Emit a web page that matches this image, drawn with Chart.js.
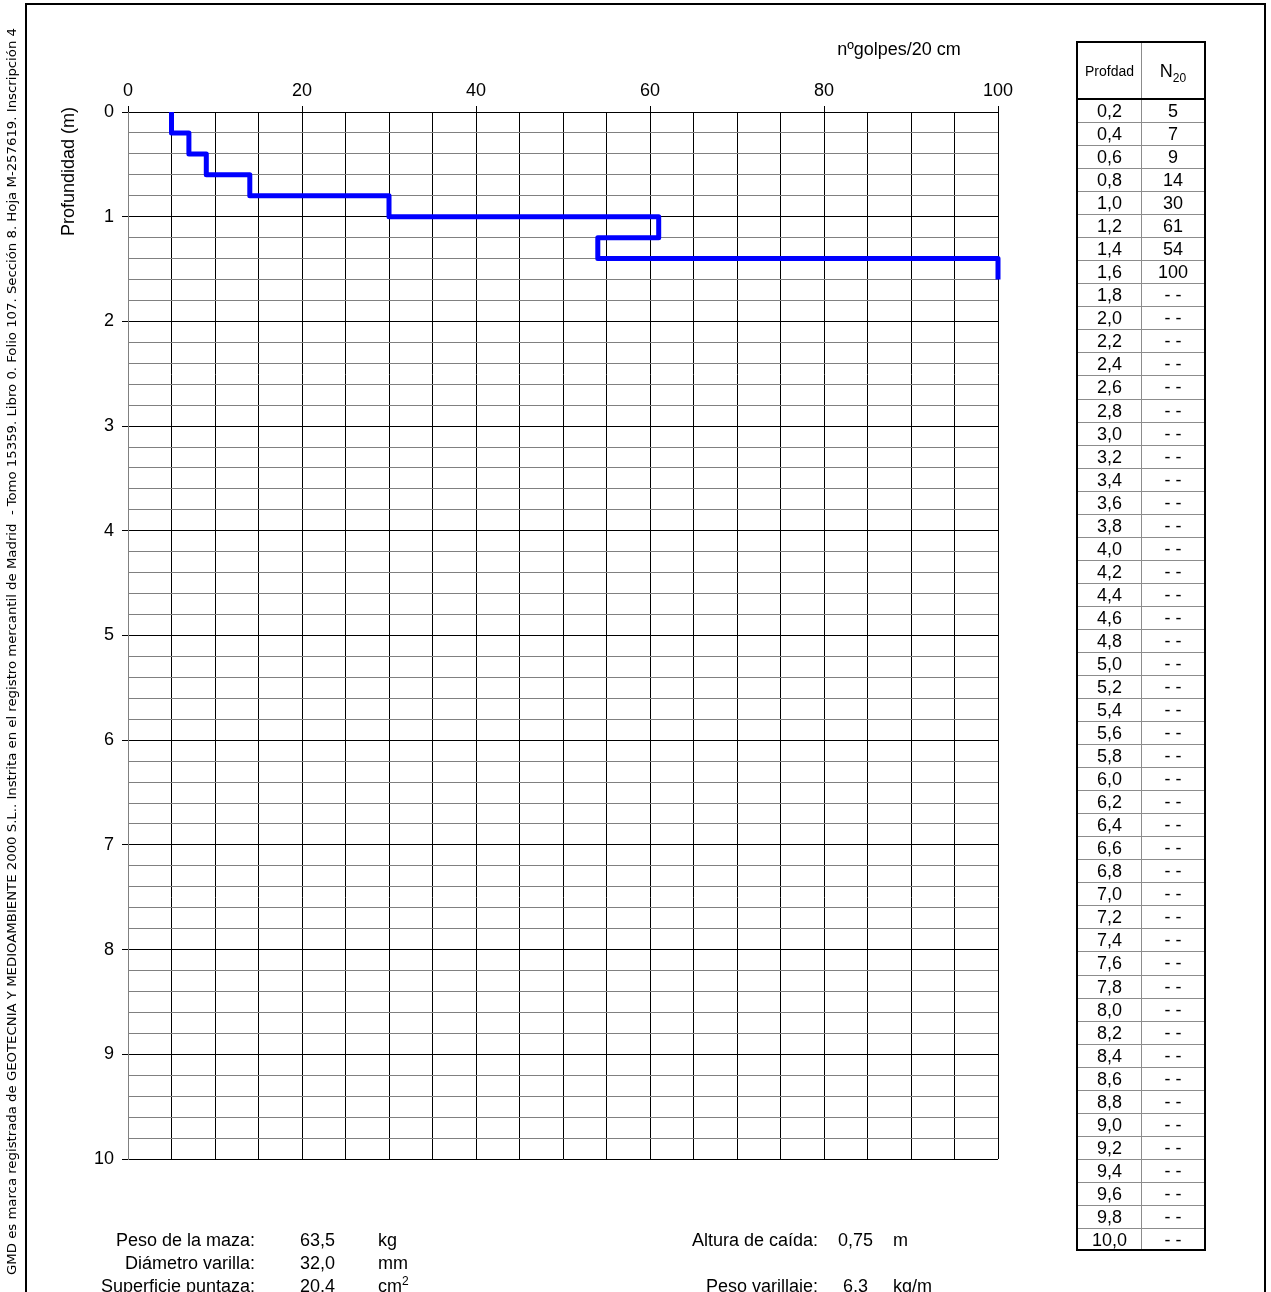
<!DOCTYPE html>
<html>
<head>
<meta charset="utf-8">
<script src="https://cdn.jsdelivr.net/npm/chart.js@4.4.1/dist/chart.umd.min.js"></script>
<style>
html,body{margin:0;padding:0;background:#fff;width:1271px;height:1292px;overflow:hidden;font-family:"Liberation Sans",Arial,sans-serif;color:#000;}
#c{position:absolute;left:0;top:0;}
.t{position:absolute;white-space:nowrap;font-size:18px;line-height:22px;}
.r{text-align:right;}
#frame{position:absolute;left:25px;top:3px;width:1241px;height:1400px;border:2px solid #000;box-sizing:border-box;}
#legal{position:absolute;left:5px;top:1275px;white-space:nowrap;font-family:"DejaVu Sans Condensed","DejaVu Sans",sans-serif;font-size:12px;line-height:14px;transform-origin:0 0;}
#tbl{position:absolute;left:1076px;top:41px;width:130px;height:1210px;border:2px solid #000;box-sizing:border-box;}
.cell{position:absolute;text-align:center;font-size:18px;white-space:nowrap;}
.hl{position:absolute;left:0;height:1px;background:#8c8c8c;}
</style>
</head>
<body>
<div id="frame"></div>
<canvas id="c" width="1271" height="1292"></canvas>
<div id="legal">GMD es marca registrada de GEOTECNIA Y MEDIOAMBIENTE 2000 S.L.. Instrita en el registro mercantil de Madrid &nbsp;- Tomo 15359. Libro 0. Folio 107. Sección 8. Hoja M-257619. Inscripción 4</div>
<div class="t" id="ytitle" style="font-size:18px;">Profundidad (m)</div>
<div class="t" style="left:834px;top:38px;width:130px;text-align:center;">nºgolpes/20 cm</div>
<div id="tbl"></div>

<div class="t r" style="left:55px;top:1229px;width:200px;">Peso de la maza:</div>
<div class="t" style="left:300px;top:1229px;">63,5</div>
<div class="t" style="left:378px;top:1229px;">kg</div>
<div class="t r" style="left:55px;top:1252px;width:200px;">Diámetro varilla:</div>
<div class="t" style="left:300px;top:1252px;">32,0</div>
<div class="t" style="left:378px;top:1252px;">mm</div>
<div class="t r" style="left:55px;top:1275px;width:200px;">Superficie puntaza:</div>
<div class="t" style="left:300px;top:1275px;">20,4</div>
<div class="t" style="left:378px;top:1275px;">cm<sup style="font-size:12px;line-height:0;">2</sup></div>

<div class="t r" style="left:618px;top:1229px;width:200px;">Altura de caída:</div>
<div class="t" style="left:838px;top:1229px;">0,75</div>
<div class="t" style="left:893px;top:1229px;">m</div>
<div class="t r" style="left:618px;top:1275px;width:200px;">Peso varillaje:</div>
<div class="t" style="left:843px;top:1275px;">6,3</div>
<div class="t" style="left:893px;top:1275px;">kg/m</div>

<script>
// ---- data ----
const depthLabels = ['0,2','0,4','0,6','0,8','1,0','1,2','1,4','1,6','1,8','2,0',
  '2,2','2,4','2,6','2,8','3,0','3,2','3,4','3,6','3,8','4,0',
  '4,2','4,4','4,6','4,8','5,0','5,2','5,4','5,6','5,8','6,0',
  '6,2','6,4','6,6','6,8','7,0','7,2','7,4','7,6','7,8','8,0',
  '8,2','8,4','8,6','8,8','9,0','9,2','9,4','9,6','9,8','10,0'];
const blows = [5, 7, 9, 14, 30, 61, 54, 100];
const startDepth = 0;
const xTickLabels = [0, 20, 40, 60, 80, 100];
const yTickLabels = [0, 1, 2, 3, 4, 5, 6, 7, 8, 9, 10];

const depthValues = depthLabels.map(s => parseFloat(s.replace(',', '.')));
const points = [{x: blows[0], y: startDepth}].concat(blows.map((b, i) => ({x: b, y: depthValues[i]})));

const isIn = (arr, v) => arr.some(a => Math.abs(a - v) < 1e-6);

// ---- chart ----
Chart.defaults.font.family = '"Liberation Sans", Arial, sans-serif';
Chart.defaults.color = '#000';
new Chart(document.getElementById('c'), {
  type: 'scatter',
  data: {
    datasets: [{
      data: points,
      showLine: true,
      stepped: 'before',
      borderColor: '#0000FF',
      borderWidth: 5,
      borderJoinStyle: 'round',
      pointRadius: 0,
      fill: false,
      clip: false
    }]
  },
  options: {
    responsive: false,
    animation: false,
    events: [],
    layout: { padding: { left: 0, top: 0, right: 273, bottom: 133 } },
    plugins: { legend: { display: false }, tooltip: { enabled: false } },
    scales: {
      x: {
        type: 'linear', position: 'top', min: 0, max: 100,
        ticks: {
          stepSize: 5, autoSkip: false, maxRotation: 0, padding: 4,
          font: { size: 18 }, color: '#000',
          callback: v => isIn(xTickLabels, v) ? String(Math.round(v)) : ''
        },
        grid: {
          color: '#000', lineWidth: 1, tickLength: 6, drawTicks: true,
          tickColor: c => (c.tick && isIn(xTickLabels, c.tick.value)) ? '#000' : 'rgba(0,0,0,0)'
        },
        border: { color: '#000', width: 1 },
        afterFit: s => { s.height = 112; }
      },
      y: {
        type: 'linear', reverse: true, min: 0, max: 10,
        ticks: {
          stepSize: 0.2, autoSkip: false, padding: 8,
          font: { size: 18 }, color: '#000',
          callback: v => isIn(yTickLabels, v) ? String(Math.round(v)) : ''
        },
        grid: {
          color: c => (c.tick && isIn(yTickLabels, c.tick.value)) ? '#000' : '#808080',
          lineWidth: 1, tickLength: 6,
          tickColor: c => (c.tick && isIn(yTickLabels, c.tick.value)) ? '#000' : 'rgba(0,0,0,0)'
        },
        border: { color: '#808080', width: 1 },
        afterFit: s => { s.width = 128; }
      }
    }
  }
});

// ---- y axis title (rotated) ----
const yt = document.getElementById('ytitle');
const ytw = yt.offsetWidth, yth = yt.offsetHeight;
yt.style.left = (68 - yth / 2) + 'px';
yt.style.top = (171 + ytw / 2) + 'px';
yt.style.transformOrigin = '0 0';
yt.style.transform = 'rotate(-90deg)';

// ---- legal text ----
const lg = document.getElementById('legal');
const lw = lg.offsetWidth;
lg.style.transform = 'rotate(-90deg) scaleX(' + (1247 / lw) + ')';

// ---- table ----
const tbl = document.getElementById('tbl');
const headerH = 57, rowH = 23.04;
let html = '';
html += '<div style="position:absolute;left:63px;top:0;width:1px;height:100%;background:#8c8c8c;"></div>';
html += '<div class="cell" style="left:0;width:63px;top:0;height:' + headerH + 'px;line-height:' + headerH + 'px;font-size:14px;">Profdad</div>';
html += '<div class="cell" style="left:64px;width:62px;top:0;height:' + headerH + 'px;line-height:' + headerH + 'px;font-size:18px;">N<sub style="font-size:12px;line-height:0;">20</sub></div>';
html += '<div style="position:absolute;left:0;width:100%;top:' + (headerH - 2) + 'px;height:2px;background:#000;"></div>';
for (let i = 0; i < depthLabels.length; i++) {
  const top = headerH + i * rowH;
  const val = i < blows.length ? String(blows[i]) : '- -';
  html += '<div class="cell" style="left:0;width:63px;top:' + top + 'px;height:' + rowH + 'px;line-height:' + rowH + 'px;">' + depthLabels[i] + '</div>';
  html += '<div class="cell" style="left:64px;width:62px;top:' + top + 'px;height:' + rowH + 'px;line-height:' + rowH + 'px;">' + val + '</div>';
  if (i < depthLabels.length - 1) {
    html += '<div class="hl" style="width:100%;top:' + (top + rowH - 1).toFixed(2) + 'px;"></div>';
  }
}
tbl.innerHTML = html;
</script>
</body>
</html>
